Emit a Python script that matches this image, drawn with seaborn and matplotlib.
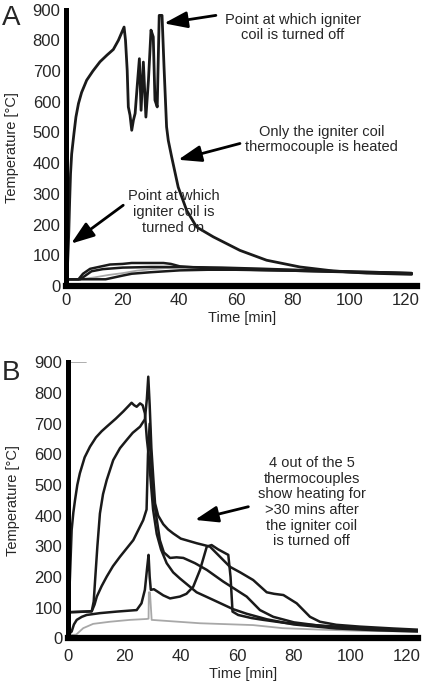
import matplotlib
matplotlib.use("Agg")
import seaborn as sns
import matplotlib.pyplot as plt

sns.set_style("white")
plt.rcParams["font.family"] = ["Liberation Sans", "DejaVu Sans"]

BLACK = "#1a1a1a"
GRAY = "#a8a8a8"

# ---- panel A: igniter coil thermocouple (hot) ----
a_hot_t = [0, 0.2, 0.5, 0.8, 1.0, 1.3, 1.6, 2.0, 2.8, 3.5, 4.4, 5.5, 7.3, 9.5, 12, 14.5,
           16.7, 18.5, 20.5, 21.0, 21.6, 22.0, 22.6, 23.2, 23.8, 24.4, 25.2, 25.9, 26.5,
           27.3, 28.2, 29.1, 30.0, 30.8, 31.4, 32.2, 32.9, 33.9, 34.6, 35.5, 36.1, 37.3,
           39.6, 42.6, 46.1, 52, 61.4, 70.8, 82.6, 94.4, 106, 122]
a_hot_T = [20, 25, 60, 127, 180, 280, 366, 430, 496, 550, 594, 630, 670, 700, 730, 752,
           770, 800, 843, 800, 702, 583, 556, 507, 540, 562, 659, 740, 572,
           729, 550, 670, 833, 811, 605, 583, 881, 881, 713, 518, 474, 420,
           322, 246, 192, 160, 116, 84, 62, 49, 42, 38]

# ---- panel A: the other four thermocouples ----
a_top_t = [0, 4.4, 6, 8.5, 12, 15.5, 20, 23.2, 28, 34.4, 37, 40.2, 50, 65, 80, 100, 110, 122]
a_top_T = [22, 22, 40, 56, 63, 70, 72, 75, 75, 75, 72, 64, 58, 53, 50, 46, 45, 42]
a_mid_t = [0, 5, 7, 9, 13, 20, 30, 40, 55, 70, 90, 110, 122]
a_mid_T = [22, 22, 35, 48, 55, 60, 62, 62, 60, 56, 50, 45, 42]
a_gray_t = [0, 5, 10, 15, 20, 25, 30, 35, 40, 50, 70, 90, 110, 122]
a_gray_T = [22, 22, 28, 36, 42, 50, 55, 58, 60, 60, 56, 50, 45, 42]
a_low_t = [0, 14, 17, 20, 23.2, 30, 40.2, 50, 60, 80, 100, 122]
a_low_T = [22, 22, 28, 34, 40, 45, 51, 53, 53, 50, 45, 40]

# ---- panel B: five thermocouples ----
b1_t = [0, 0.3, 0.8, 1.4, 2.0, 2.6, 3.4, 4.3, 6, 7.9, 10, 12, 13.8, 17, 19.7, 22.6, 23.5,
        24.4, 25.6, 26.5, 27.3, 28.0, 28.6, 29.3, 30.2, 31.5, 33, 35, 37.3, 39.7, 45.6,
        51.5, 58.5, 63.3, 70.4, 80, 95, 110, 124]
b1_T = [10, 80, 200, 353, 410, 451, 500, 538, 590, 625, 655, 675, 690, 716, 740, 768, 760,
        755, 766, 760, 734, 650, 600, 520, 420, 340, 290, 245, 215, 195, 150,
        125, 95, 80, 62, 45, 32, 26, 22]

b2_t = [0, 0.5, 3, 6, 8.5, 9.2, 9.7, 10.5, 11.4, 12.5, 13.8, 16.1, 18.5, 20.9, 23, 25.6,
        27.3, 28.0, 28.5, 29.0, 29.6, 30.3, 30.9, 32, 33.8, 35.5, 37.3, 40, 45.6, 50.3,
        57.4, 61, 65.6, 70.4, 73, 76.3, 81, 85.7, 89.2, 95, 103.4, 115, 124]
b2_T = [10, 85, 86, 87, 88, 120, 190, 300, 407, 470, 516, 581, 620, 647, 670, 690,
        714, 780, 853, 760, 620, 520, 440, 400, 372, 355, 342, 325, 310, 299,
        233, 215, 190, 150, 145, 141, 114, 70, 54, 44, 38, 32, 28]

b3_t = [0, 0.5, 4, 8.5, 9.5, 10.3, 12, 13.8, 16, 18.5, 23.2, 26.7, 27.9, 28.4, 29.0, 29.6,
        30.5, 32.6, 34, 36.2, 38.5, 40.9, 45, 49.2, 55, 63.3, 68, 72.7, 80, 90, 105, 124]
b3_T = [10, 85, 86, 88, 110, 136, 170, 201, 235, 266, 320, 385, 420, 600, 700, 560,
        450, 320, 280, 262, 264, 262, 245, 223, 185, 136, 92, 70, 52, 40, 30, 25]

b4_t = [0, 1.4, 2.2, 3.2, 5, 6.7, 11.4, 17.3, 24.4, 26.1, 27.3, 28.1, 28.6, 29.0, 29.4,
        30.5, 33.8, 36.2, 39.7, 42, 44.4, 46.8, 49.2, 50.9, 53.2, 56.8, 57.6, 58.3,
        60.3, 65, 69.2, 77, 86.9, 100, 124]
b4_T = [10, 22, 45, 60, 70, 76, 82, 87, 92, 114, 158, 230, 272, 200, 158,
        160, 140, 130, 136, 145, 168, 223, 299, 304, 290, 272, 200, 87,
        76, 66, 60, 50, 43, 35, 25]

b5_t = [0, 3, 5.5, 9, 15, 22, 28, 28.6, 28.7, 29.1, 29.7, 46.8, 65.6, 76, 90, 105, 124]
b5_T = [10, 12, 33, 47, 54, 60, 63, 64, 150, 150, 60, 49, 43, 33, 28, 24, 22]

# short grey stub near the top-left of panel B
stub_t = [0.3, 6.5]
stub_T = [900, 900]

x_ticks = [0, 20, 40, 60, 80, 100, 120]
y_ticks = [0, 100, 200, 300, 400, 500, 600, 700, 800, 900]

fig = plt.figure(figsize=(4.22, 6.82), dpi=100)
axA = fig.add_axes([0.1564, 0.5806, 0.8325, 0.4054])
axB = fig.add_axes([0.1604, 0.0641, 0.8308, 0.4047])


def line(ax, t, T, color=BLACK, lw=1.8):
    sns.lineplot(x=t, y=T, ax=ax, color=color, lw=lw, sort=False, estimator=None)


line(axA, a_gray_t, a_gray_T, GRAY, 1.3)
line(axA, a_low_t, a_low_T)
line(axA, a_mid_t, a_mid_T)
line(axA, a_top_t, a_top_T)
line(axA, a_hot_t, a_hot_T, lw=2.0)

line(axB, b5_t, b5_T, GRAY, 1.3)
line(axB, stub_t, stub_T, GRAY, 1.3)
line(axB, b4_t, b4_T)
line(axB, b3_t, b3_T)
line(axB, b2_t, b2_T)
line(axB, b1_t, b1_T)

for ax, tickdir in ((axA, "in"), (axB, "out")):
    ax.set_xlim(0, 124)
    ax.set_ylim(0, 900)
    ax.set_xticks(x_ticks)
    ax.set_yticks(y_ticks)
    sns.despine(ax=ax)
    ax.spines["left"].set_linewidth(3.6)
    ax.spines["bottom"].set_linewidth(4.5)
    ax.spines["left"].set_color("black")
    ax.spines["bottom"].set_color("black")
    ax.tick_params(axis="y", length=0, pad=4, labelsize=12)
    ax.tick_params(axis="x", direction=tickdir, length=3, width=0.6, color="0.6",
                   pad=5, labelsize=12)
    ax.set_xlabel("Time [min]", fontsize=10.5, labelpad=2)
    ax.set_ylabel("Temperature [°C]", fontsize=10.5, labelpad=10)
    ax.patch.set_alpha(0)

arrow = dict(arrowstyle="-|>,head_length=1.4,head_width=0.5", mutation_scale=10,
             color="black", lw=2, shrinkA=0, shrinkB=0)
txt = dict(ha="center", va="center", fontsize=10.5, linespacing=1.15)

# panel A annotations
axA.annotate("", xy=(34.6, 855), xytext=(52.9, 881), arrowprops=arrow)
axA.text(80.1, 842, "Point at which igniter\ncoil is turned off", **txt)
axA.annotate("", xy=(39.6, 411), xytext=(61.4, 464), arrowprops=arrow)
axA.text(90.3, 477, "Only the igniter coil\nthermocouple is heated", **txt)
axA.annotate("", xy=(1.8, 138), xytext=(20.2, 263), arrowprops=arrow)
axA.text(37.9, 241, "Point at which\nigniter coil is\nturned on", **txt)

# panel B annotation
axB.annotate("", xy=(45, 386), xytext=(63.9, 429), arrowprops=arrow)
axB.text(86.3, 444, "4 out of the 5\nthermocouples\nshow heating for\n>30 mins after\n"
         "the igniter coil\nis turned off", **txt)

fig.text(2 / 422, 1 - 25 / 682, "A", fontsize=20, va="baseline")
fig.text(2 / 422, 1 - 380 / 682, "B", fontsize=20, va="baseline")

plt.savefig("out.png", dpi=100)
